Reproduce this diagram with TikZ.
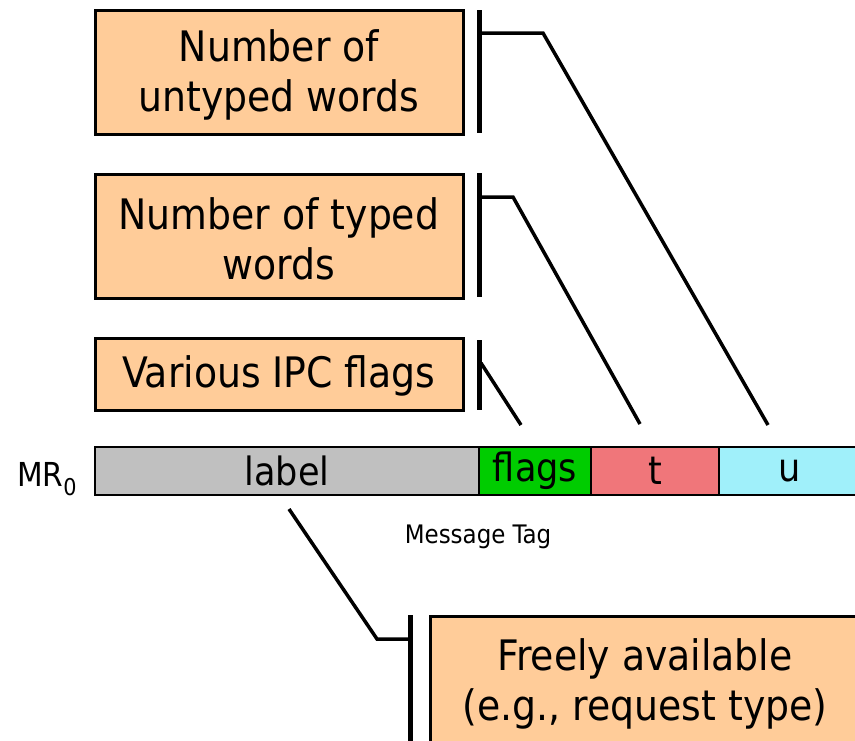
\documentclass[tikz,border=0pt]{standalone}
\usepackage{fontspec}
\setmainfont{DejaVu Sans Condensed}
\begin{document}
\begin{tikzpicture}[x=1pt,y=-1pt,
  note/.style={draw=black, line width=3pt, fill=notefill, inner sep=0pt},
  notetext/.style={inner sep=0pt, align=center, font=\fontsize{42}{50}\selectfont},
  field/.style={draw=black, line width=2pt, inner sep=0pt, minimum height=48pt,
    font=\fontsize{39}{46}\selectfont},
  bar/.style={line width=5pt},
  link/.style={line width=3.5pt}]
\definecolor{notefill}{HTML}{FFCC99}
\definecolor{labelgray}{HTML}{C0C0C0}
\definecolor{flagsgreen}{HTML}{00CC00}
\definecolor{tred}{HTML}{F0767A}
\definecolor{ucyan}{HTML}{A0F0FA}
\useasboundingbox (0,0) rectangle (855,740);
\clip (0,0) rectangle (855,740);

% annotation boxes
\node[note, minimum width=368pt, minimum height=124pt] (untyped) at (279,72) {};
\node[note, minimum width=368pt, minimum height=124pt] (typed) at (279,236) {};
\node[note, minimum width=368pt, minimum height=72pt] (ipc) at (279,374) {};
\node[note, minimum width=430pt, minimum height=132pt] (free) at (645,682) {};

% their texts, set a little below the box centres
\node[notetext] (untypedtxt) at ([yshift=-3pt]untyped.center) {Number of\\untyped words};
\node[notetext] (typedtxt) at ([yshift=-3pt]typed.center) {Number of typed\\words};
\node[notetext] (ipctxt) at ([yshift=-2pt]ipc.center) {Various IPC flags};
\node[notetext] (freetxt) at ([yshift=-2pt]free.center) {Freely available\\(e.g., request type)};

% message register fields
\node[field, fill=labelgray, minimum width=384pt] (label) at (287,471) {label};
\node[field, fill=flagsgreen, minimum width=112pt] (flags) at (535,471) {flags};
\node[field, fill=tred, minimum width=128pt] (t) at (655,471) {t};
\node[field, fill=ucyan, minimum width=142pt] (u) at (790,471) {u};

\node[font=\fontsize{33}{40}\selectfont] (mr) at (47,479) {MR\textsubscript{0}};
\node[font=\fontsize{25.5}{30}\selectfont] (tag) at (478,537) {Message Tag};

% brackets beside the boxes
\coordinate (b1t) at (479,10);  \coordinate (b1b) at (479,133);
\coordinate (b2t) at (479,173); \coordinate (b2b) at (479,297);
\coordinate (b3t) at (479,340); \coordinate (b3b) at (479,410);
\coordinate (b4t) at (410,615); \coordinate (b4b) at (410,745);
\draw[bar] (b1t) -- (b1b);
\draw[bar] (b2t) -- (b2b);
\draw[bar] (b3t) -- (b3b);
\draw[bar] (b4t) -- (b4b);

% leader lines
\coordinate (s1) at (481,33);  \coordinate (k1) at (543,33);  \coordinate (e1) at (768,425);
\coordinate (s2) at (481,197); \coordinate (k2) at (513,197); \coordinate (e2) at (640,424);
\coordinate (s3) at (481,363); \coordinate (e3) at (521,425);
\coordinate (s4) at (289,509); \coordinate (k4) at (377,639); \coordinate (e4) at (410,639);
\draw[link] (s1) -- (k1) -- (e1);
\draw[link] (s2) -- (k2) -- (e2);
\draw[link] (s3) -- (e3);
\draw[link] (s4) -- (k4) -- (e4);
\end{tikzpicture}
\end{document}
